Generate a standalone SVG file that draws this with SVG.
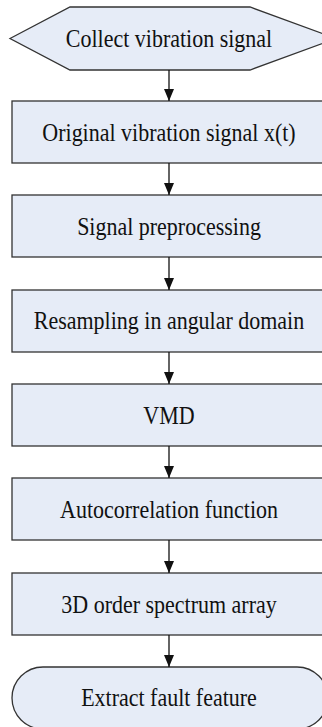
<svg xmlns="http://www.w3.org/2000/svg" width="322" height="727" viewBox="0 0 322 727">
<style>
.shape{fill:#E6ECF7;stroke:#333;stroke-width:1.3}
.lbl{font-family:'Liberation Serif','Times New Roman','DejaVu Serif',serif;font-size:22px;fill:#111;text-anchor:middle}
.conn{stroke:#111;stroke-width:1.3;fill:none}
</style>
<defs>
<marker id="ah" viewBox="0 0 12 10" refX="12" refY="5" markerWidth="12" markerHeight="10" markerUnits="userSpaceOnUse" orient="auto">
<path d="M0,0 L12,5 L0,10 Z" fill="#111"/>
</marker>
</defs>
<rect width="322" height="727" fill="#fff"/>
<g id="n0">
<polygon class="shape" points="10,38.5 70,7 250,7 336,38.5 250,70 70,70"/>
<text class="lbl" font-family="Liberation Serif, serif" transform="translate(169,47) scale(1,1.15)">Collect vibration signal</text>
</g>
<g id="n1">
<rect class="shape" x="12" y="101" width="316" height="62"/>
<text class="lbl" font-family="Liberation Serif, serif" transform="translate(169,140.5) scale(1,1.15)">Original vibration signal x(t)</text>
</g>
<g id="n2">
<rect class="shape" x="12" y="195" width="316" height="62"/>
<text class="lbl" font-family="Liberation Serif, serif" transform="translate(169,234.5) scale(1,1.15)">Signal preprocessing</text>
</g>
<g id="n3">
<rect class="shape" x="12" y="290" width="316" height="62"/>
<text class="lbl" font-family="Liberation Serif, serif" transform="translate(169,329) scale(1,1.15)">Resampling in angular domain</text>
</g>
<g id="n4">
<rect class="shape" x="12" y="384" width="316" height="62"/>
<text class="lbl" font-family="Liberation Serif, serif" transform="translate(169,423.5) scale(1,1.15)">VMD</text>
</g>
<g id="n5">
<rect class="shape" x="12" y="478" width="316" height="62"/>
<text class="lbl" font-family="Liberation Serif, serif" transform="translate(169,517.5) scale(1,1.15)">Autocorrelation function</text>
</g>
<g id="n6">
<rect class="shape" x="12" y="573" width="316" height="62"/>
<text class="lbl" font-family="Liberation Serif, serif" transform="translate(169,612.5) scale(1,1.15)">3D order spectrum array</text>
</g>
<g id="n7">
<rect class="shape" x="12" y="667" width="316" height="62" rx="31" ry="31"/>
<text class="lbl" font-family="Liberation Serif, serif" transform="translate(169,706) scale(1,1.15)">Extract fault feature</text>
</g>
<g id="connectors">
<line class="conn" x1="169" y1="70" x2="169" y2="101" marker-end="url(#ah)"/>
<line class="conn" x1="169" y1="163" x2="169" y2="195" marker-end="url(#ah)"/>
<line class="conn" x1="169" y1="257" x2="169" y2="290" marker-end="url(#ah)"/>
<line class="conn" x1="169" y1="352" x2="169" y2="384" marker-end="url(#ah)"/>
<line class="conn" x1="169" y1="446" x2="169" y2="478" marker-end="url(#ah)"/>
<line class="conn" x1="169" y1="540" x2="169" y2="573" marker-end="url(#ah)"/>
<line class="conn" x1="169" y1="635" x2="169" y2="667" marker-end="url(#ah)"/>
</g>
</svg>
